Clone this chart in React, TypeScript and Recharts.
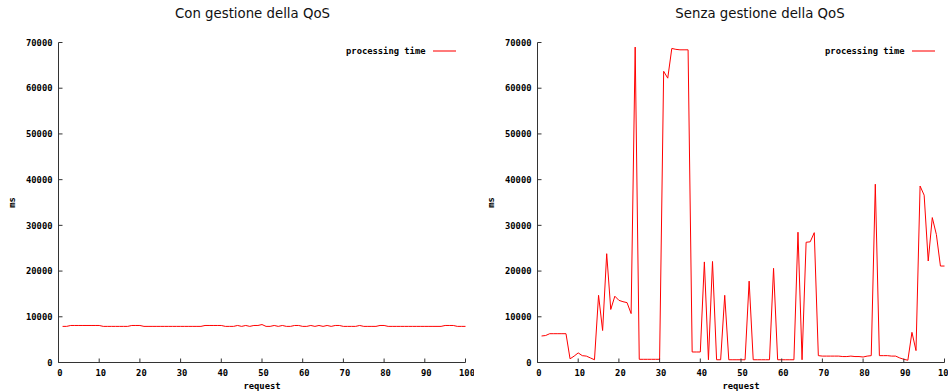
import { Legend, Line, LineChart, XAxis, YAxis } from 'recharts';

// request index 1..100 (category axis)
const requests = Array.from({ length: 100 }, (_, i) => i + 1);

const xTicks = [0, 10, 20, 30, 40, 50, 60, 70, 80, 90, 100];
const yTicks = [0, 10000, 20000, 30000, 40000, 50000, 60000, 70000];

// processing time (ms) with QoS management
const withQos = [
  7900, 7900, 8100, 8100, 8100, 8100, 8100, 8100, 8100, 8100,
  7900, 7900, 7900, 7900, 7900, 7900, 7900, 8100, 8100, 8100,
  7900, 7900, 7900, 7900, 7900, 7900, 7900, 7900, 7900, 7900,
  7900, 7900, 7900, 7900, 7900, 8100, 8100, 8100, 8100, 8100,
  7900, 7900, 7900, 8100, 7900, 8100, 7900, 8100, 8100, 8300,
  7900, 7900, 8100, 7900, 8100, 7900, 7900, 8100, 8100, 7900,
  7900, 8100, 7900, 8100, 7900, 8100, 7900, 8100, 8100, 7900,
  7900, 7900, 7900, 8100, 7900, 7900, 7900, 7900, 8100, 8100,
  7900, 7900, 7900, 7900, 7900, 7900, 7900, 7900, 7900, 7900,
  7900, 7900, 7900, 7900, 8100, 8100, 8100, 7900, 7900, 7900,
];

// processing time (ms) without QoS management
const withoutQos = [
  5800, 5900, 6300, 6300, 6300, 6300, 6300, 800, 1400, 2100,
  1500, 1400, 1000, 600, 14700, 7000, 23800, 11600, 14500, 13600,
  13300, 13100, 10700, 69000, 700, 700, 700, 700, 700, 700,
  63700, 62200, 68700, 68500, 68400, 68400, 68400, 2300, 2300, 2300,
  22000, 600, 22100, 600, 600, 14700, 600, 600, 600, 600,
  600, 17800, 600, 600, 600, 600, 600, 20600, 600, 600,
  600, 600, 600, 28500, 600, 26300, 26400, 28400, 1500, 1400,
  1400, 1400, 1400, 1400, 1300, 1300, 1400, 1300, 1300, 1200,
  1400, 1500, 39000, 1500, 1500, 1500, 1400, 1400, 1000, 700,
  500, 6600, 2600, 38600, 36600, 22200, 31700, 28000, 21100, 21100,
];

const tickFont = {
  fontFamily: '"DejaVu Sans Mono", monospace',
  fontWeight: 700,
  fontSize: 8.8,
  fill: '#000',
};

const W = 474;
const H = 391;
const TOP = 42.5;
const BOTTOM = 362.5;
const Y_AXIS_W = 50;

function BottomTick({ x, y, payload }: any) {
  return (
    <g>
      <line x1={x} x2={x} y1={y} y2={y - 4} stroke="#333" />
      <text x={x + 1.5} y={y + 13.2} textAnchor="middle" {...tickFont}>
        {payload.value}
      </text>
    </g>
  );
}

function TopTick({ x, y }: any) {
  return <line x1={x} x2={x} y1={y} y2={y + 4} stroke="#333" />;
}

function LeftTick({ x, y, payload }: any) {
  return (
    <g>
      <line x1={x} x2={x + 4} y1={y} y2={y} stroke="#333" />
      <text x={x - 6} y={y + 3.2} textAnchor="end" {...tickFont}>
        {payload.value}
      </text>
    </g>
  );
}

function RightTick({ x, y }: any) {
  return <line x1={x - 4} x2={x} y1={y} y2={y} stroke="#333" />;
}

function LegendBox() {
  return (
    <div
      style={{
        display: 'flex',
        alignItems: 'center',
        justifyContent: 'flex-end',
        fontFamily: tickFont.fontFamily,
        fontWeight: 700,
        fontSize: 8.8,
        color: '#000',
        lineHeight: '12px',
      }}
    >
      <span>processing time</span>
      <svg width={30} height={12} style={{ display: 'block' }}>
        <line x1={7} x2={30} y1={6} y2={6} stroke="#ff2020" strokeWidth={1.2} />
      </svg>
    </div>
  );
}

interface PanelProps {
  title: string;
  titleX: number;
  values: number[];
  plotLeft: number;
  plotRight: number;
}

function Panel({ title, titleX, values, plotLeft, plotRight }: PanelProps) {
  const data = requests.map((r, i) => ({ request: r, time: values[i] }));

  return (
    <div style={{ position: 'relative', width: W, height: H, overflow: 'hidden' }}>
      <LineChart
        width={W}
        height={H}
        data={data}
        margin={{ top: TOP, right: W - plotRight, bottom: 0, left: plotLeft - Y_AXIS_W }}
      >
        <XAxis
          xAxisId="b"
          dataKey="request"
          type="number"
          domain={[0, 100]}
          ticks={xTicks}
          interval={0}
          height={H - BOTTOM}
          tickLine={false}
          tickSize={0}
          tickMargin={0}
          axisLine={{ stroke: '#333' }}
          tick={BottomTick}
          label={{
            value: 'request',
            position: 'insideBottom',
            offset: 2,
            ...tickFont,
          }}
        />
        <XAxis
          xAxisId="t"
          orientation="top"
          dataKey="request"
          type="number"
          domain={[0, 100]}
          ticks={xTicks}
          interval={0}
          height={0}
          tickLine={false}
          tickSize={0}
          tickMargin={0}
          axisLine={{ stroke: '#999' }}
          tick={TopTick}
        />
        <YAxis
          yAxisId="l"
          type="number"
          domain={[0, 70000]}
          ticks={yTicks}
          interval={0}
          width={Y_AXIS_W}
          tickLine={false}
          tickSize={0}
          tickMargin={0}
          axisLine={{ stroke: '#333' }}
          tick={LeftTick}
          label={{
            value: 'ms',
            angle: -90,
            position: 'center',
            dx: -21.5,
            ...tickFont,
          }}
        />
        <YAxis
          yAxisId="r"
          orientation="right"
          type="number"
          domain={[0, 70000]}
          ticks={yTicks}
          interval={0}
          width={0}
          tickLine={false}
          tickSize={0}
          tickMargin={0}
          axisLine={{ stroke: '#333' }}
          tick={RightTick}
        />
        <Legend
          layout="horizontal"
          verticalAlign="middle"
          align="center"
          wrapperStyle={{ top: 45, left: 'auto', right: W - plotRight + 10, width: 150, height: 12 }}
          content={() => <LegendBox />}
        />
        <Line
          xAxisId="b"
          yAxisId="l"
          type="linear"
          dataKey="time"
          name="processing time"
          stroke="#ff0000"
          strokeWidth={1}
          dot={false}
          activeDot={false}
          isAnimationActive={false}
        />
      </LineChart>
      <svg
        width={W}
        height={30}
        style={{ position: 'absolute', left: 0, top: 0, pointerEvents: 'none' }}
      >
        <text
          x={titleX}
          y={17.7}
          textAnchor="middle"
          fontFamily='"DejaVu Sans", sans-serif'
          fontSize={13.3}
          fill="#111"
        >
          {title}
        </text>
      </svg>
    </div>
  );
}

export default function App() {
  return (
    <div
      style={{
        position: 'absolute',
        left: 0,
        top: 0,
        width: 2 * W,
        height: H,
        display: 'flex',
        background: '#fff',
      }}
    >
      <Panel title="Con gestione della QoS" titleX={252.5} values={withQos} plotLeft={58.5} plotRight={465.5} />
      <Panel title="Senza gestione della QoS" titleX={286} values={withoutQos} plotLeft={63.5} plotRight={470.5} />
    </div>
  );
}
